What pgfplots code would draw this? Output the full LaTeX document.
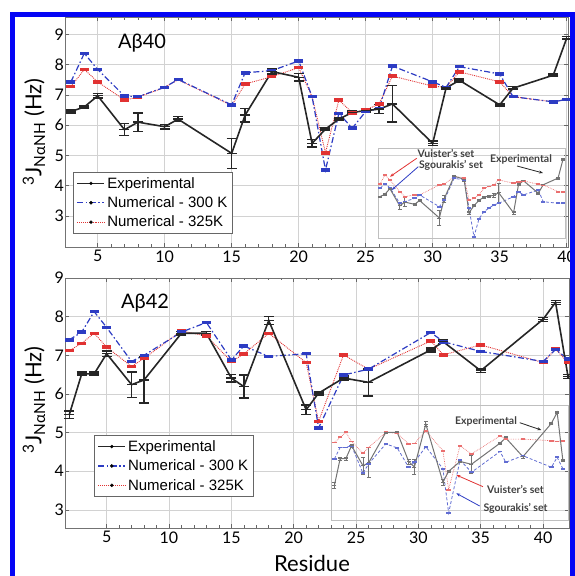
\documentclass[border=0pt]{standalone}
\usepackage{fontspec}
\setmainfont{Lato}
\newfontfamily\legfont{Liberation Sans}
\usepackage{pgfplots}
\pgfplotsset{compat=1.18}
\usepackage{pgfplotstable}
\usetikzlibrary{arrows.meta}

\definecolor{exblue}{RGB}{45,60,195}
\definecolor{exred}{RGB}{225,50,50}
\definecolor{frameblue}{RGB}{5,5,245}

% r exp err  b(300K) rd(325K)  ib(Sgourakis inset) ir(Vuister inset)
\pgfplotstableread{
r  exp  err  b    rd   ib   ir
3  6.45 0.05 7.43 7.27 6.99 7.25
4  6.60 0.05 8.37 7.84 7.25 7.86
5  6.97 0.07 7.84 7.43 7.03 7.53
7  5.85 0.20 6.96 6.83 6.02 6.77
8  6.10 0.30 6.94 6.92 6.12 6.45
10 5.95 0.07 7.25 7.25 6.34 6.56
11 6.20 0.08 7.51 7.50 6.56 6.56
15 5.07 0.50 6.67 6.65 5.80 7.21
16 6.33 0.22 7.73 7.36 6.23 7.25
18 7.77 0.08 7.80 7.60 7.64 7.75
20 7.58 0.12 8.12 7.90 7.53 7.68
21 5.40 0.12 6.94 6.94 5.69 6.23
22 5.87 0.05 4.52 5.09 3.85 6.34
23 6.20 0.05 6.39 6.83 5.00 6.56
24 6.42 0.05 5.90 6.41 5.47 6.99
25 6.48 0.05 6.45 6.50 5.70 7.10
26 6.53 0.15 6.55 6.70 5.91 7.21
27 6.70 0.60 7.95 7.62 6.02 7.53
30 5.40 0.08 7.43 7.29 6.45 7.32
31 7.23 0.05 7.25 7.25 6.77 7.42
32 7.48 0.05 7.93 7.76 6.56 7.47
35 6.67 0.05 7.69 7.43 6.88 7.25
36 7.22 0.05 6.94 6.94 6.12 7.21
39 7.65 0.05 6.77 6.77 6.02 6.77
40 8.87 0.05 6.85 6.85 6.02 6.77
}\topdata

\pgfplotstableread{
r  exp  err  b    rd   ib   ir
2  5.46 0.10 7.40 7.12 6.51 7.17
3  6.52 0.05 7.60 7.31 6.97 7.37
4  6.52 0.05 8.13 7.57 6.97 7.57
5  7.04 0.07 7.72 7.21 7.04 7.21
7  6.24 0.33 6.84 6.71 5.94 6.74
8  6.36 0.60 7.00 6.92 6.32 6.97
11 7.57 0.05 7.60 7.63 7.11 7.57
13 7.57 0.05 7.85 7.50 6.95 7.53
15 6.41 0.10 6.88 6.84 6.18 7.11
16 6.19 0.30 7.24 7.03 6.38 7.13
18 7.90 0.10 6.97 7.57 7.00 7.63
21 5.59 0.12 7.04 6.81 6.12 6.84
22 6.02 0.05 5.12 5.29 4.36 5.29
24 6.41 0.05 6.49 7.01 6.47 7.04
26 6.30 0.35 6.64 6.64 5.98 6.71
31 7.14 0.05 7.59 7.37 6.81 7.43
32 7.35 0.05 7.35 7.01 6.38 7.30
35 6.60 0.05 7.10 7.27 6.64 7.30
40 7.93 0.05 6.84 6.81 6.18 7.24
41 8.37 0.05 7.15 7.16 6.58 7.21
42 6.45 0.05 6.90 6.81 6.12 7.24
}\botdata

\pgfplotsset{
  mainax/.style={
    scale only axis, anchor=south west, clip=false,
    grid=major, major grid style={gray!35, line width=0.6pt},
    axis line style={black!55, line width=0.8pt},
    tick style={black!60, line width=0.6pt},
    major tick length=4pt, minor tick length=2.5pt,
    xtick={5,10,...,40}, ytick={3,...,9}, minor x tick num=4,
    tick align=inside,
    tick label style={font=\fontsize{16}{16}\selectfont},
    /pgf/number format/assume math mode=true,
    yticklabel style={inner xsep=1pt},
    legend cell align=left,
    reverse legend,
    legend image code/.code={\draw[#1, mark=none] (0pt,0pt) -- (27pt,0pt);
        \draw[#1, only marks, mark=*, mark size=1.6pt, mark options={solid, draw=black, fill=black, line width=0.3pt}]
        plot coordinates {(13.5pt,0pt)};},
    legend style={font=\legfont\fontsize{15}{15}\selectfont, draw=black!60, line width=0.8pt,
      anchor=north west, row sep=3pt, inner xsep=3pt, inner ysep=3pt},
  },
  insetax/.style={
    scale only axis, anchor=south west, clip=false,
    xtick=\empty, ytick=\empty,
    axis line style={gray!50, line width=0.6pt},
  },
  expstyle/.style={color=black!85, line width=1.6pt, mark=-, mark size=5pt,
    mark options={line width=1.4pt},
    error bars/y dir=both, error bars/y explicit,
    error bars/error mark=|,
    error bars/error bar style={line width=1.4pt, black!85},
    error bars/error mark options={black!85, mark size=5pt, line width=1.4pt}},
  bstyle/.style={color=exblue, line width=1.2pt, dash pattern=on 6pt off 2.5pt on 1.5pt off 2.5pt,
    mark=-, mark size=4.5pt, mark options={solid, line width=3.5pt, exblue}},
  rstyle/.style={color=exred, line width=0.9pt, densely dotted,
    mark=-, mark size=4.5pt, mark options={solid, line width=3.5pt, exred}},
  iexp/.style={black!55, line width=1pt, mark=-, mark size=2pt, mark options={line width=0.8pt},
    error bars/y dir=both, error bars/y explicit,
    error bars/error mark=|,
    error bars/error bar style={line width=0.7pt, black!55},
    error bars/error mark options={black!55, mark size=2pt, line width=0.7pt}},
  ib/.style={exblue!75, line width=0.8pt, densely dashed, mark=-, mark size=2.2pt,
    mark options={solid, line width=1.8pt, exblue!75}},
  ir/.style={exred!70, line width=0.7pt, densely dotted, mark=-, mark size=2.2pt,
    mark options={solid, line width=1.8pt, exred!70}},
}

\begin{document}
\begin{tikzpicture}[x=1pt,y=1pt]
\useasboundingbox (0,0) rectangle (575,576);

% ---------- top panel: Abeta40 ----------
\begin{axis}[mainax, at={(65pt,329pt)}, width=503pt, height=230pt,
  xmin=2.56, xmax=40.1, ymin=1.98, ymax=9.57,
  legend style={at={(0.0165,0.327)}}]
\addplot[rstyle] table[x=r, y=rd]{\topdata};
\addlegendentry{Numerical - 325K}
\addplot[bstyle] table[x=r, y=b]{\topdata};
\addlegendentry{Numerical - 300 K}
\addplot[expstyle] table[x=r, y=exp, y error=err]{\topdata};
\addlegendentry{Experimental}
\end{axis}

\begin{axis}[insetax, at={(378pt,338pt)}, width=187pt, height=90pt,
  xmin=2.6, xmax=40.4, ymin=3.77, ymax=9.6]
\addplot[ir] table[x=r, y=ir]{\topdata};
\addplot[ib] table[x=r, y=ib]{\topdata};
\addplot[iexp] table[x=r, y=exp, y error=err]{\topdata};
\end{axis}

% ---------- bottom panel: Abeta42 ----------
\begin{axis}[mainax, at={(65pt,48pt)}, width=504pt, height=250pt,
  xmin=1.66, xmax=42.08, ymin=2.53, ymax=9,
  legend style={at={(0.0577,0.372)}}]
\addplot[rstyle] table[x=r, y=rd]{\botdata};
\addlegendentry{Numerical - 325K}
\addplot[bstyle] table[x=r, y=b]{\botdata};
\addlegendentry{Numerical - 300 K}
\addplot[expstyle] table[x=r, y=exp, y error=err]{\botdata};
\addlegendentry{Experimental}
\end{axis}

\begin{axis}[insetax, at={(331pt,56pt)}, width=237pt, height=115pt,
  xmin=1.4, xmax=42.9, ymin=4.08, ymax=8.66]
\addplot[ir] table[x=r, y=ir]{\botdata};
\addplot[ib] table[x=r, y=ib]{\botdata};
\addplot[iexp] table[x=r, y=exp, y error=err]{\botdata};
\end{axis}

% ---------- labels ----------
\node[font=\fontsize{20}{20}\selectfont] at (142,533) {Aβ40};
\node[font=\fontsize{20}{20}\selectfont] at (145,273) {Aβ42};
\node[rotate=90, font=\fontsize{22}{22}\selectfont] at (34,444) {\textsuperscript{3}J\textsubscript{NαNH} (Hz)};
\node[rotate=90, font=\fontsize{22}{22}\selectfont] at (34,176) {\textsuperscript{3}J\textsubscript{NαNH} (Hz)};
\node[font=\fontsize{22}{22}\selectfont] at (312,13) {Residue};

% inset annotations (top)
\node[font=\fontsize{10.5}{10.5}\selectfont\bfseries, text=black!75] at (446,423) {Vuister's set};
\node[font=\fontsize{10.5}{10.5}\selectfont\bfseries, text=black!75] at (451,411) {Sgourakis' set};
\node[font=\fontsize{10.5}{10.5}\selectfont\bfseries, text=black!75] at (521,417) {Experimental};
\draw[exred, line width=0.8pt, -{Stealth[length=4pt]}] (416.7,417.7) -- (390,399.3);
\draw[exblue, line width=0.8pt, -{Stealth[length=4pt]}] (418.3,409.3) -- (391.7,386);
\draw[black!85, line width=0.8pt, -{Stealth[length=4pt]}] (517,410) -- (543,403);

% inset annotations (bottom)
\node[font=\fontsize{10.5}{10.5}\selectfont\bfseries, text=black!75] at (486,154.3) {Experimental};
\draw[black!85, line width=0.8pt, -{Stealth[length=4pt]}] (519.7,153.3) -- (541.3,146);
\node[font=\fontsize{10.5}{10.5}\selectfont\bfseries, text=black!75] at (515.5,86.7) {Vuister's set};
\draw[exred, line width=0.8pt, -{Stealth[length=4pt]}] (483,89.3) -- (456.3,101);
\node[font=\fontsize{10.5}{10.5}\selectfont\bfseries, text=black!75] at (515.5,67.7) {Sgourakis' set};
\draw[exblue, line width=0.8pt, -{Stealth[length=4pt]}] (479.7,70) -- (456.3,82.7);

% blue frame
\draw[frameblue, line width=5pt] (12.5,-5) -- (12.5,561.7) -- (572.5,561.7) -- (572.5,-5);
\end{tikzpicture}
\end{document}
